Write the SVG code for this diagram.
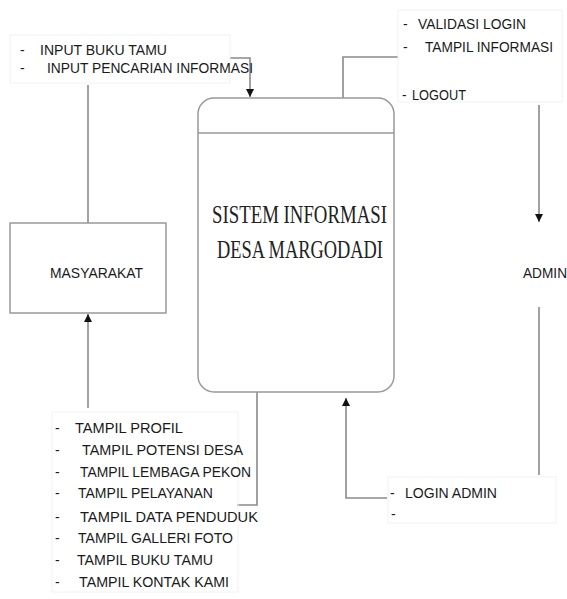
<svg xmlns="http://www.w3.org/2000/svg" width="567" height="599" viewBox="0 0 567 599">
<defs>
<marker id="ah" viewBox="0 0 10 10" refX="10" refY="5" markerWidth="8" markerHeight="12" markerUnits="userSpaceOnUse" orient="auto">
<path d="M0,0 L10,5 L0,10 Z" fill="#111"/>
</marker>
</defs>
<style>
.t{font-family:"Liberation Sans",Arial,sans-serif;font-size:14px;fill:#1a1a1a}
.s{font-family:"Liberation Serif","Times New Roman",serif;font-size:26px;fill:#222}
.c{fill:none;stroke:#8a8a8a;stroke-width:1.6}
.b{fill:#fff;stroke:#999;stroke-width:1.5}
.f{fill:none;stroke:#f2f2f2;stroke-width:1}
</style>
<rect width="567" height="599" fill="#fff"/>
<g id="connectors">
<polyline class="c" points="230,58 250,58 250,97" marker-end="url(#ah)"/>
<line class="c" x1="88" y1="85" x2="88" y2="223"/>
<line class="c" x1="88" y1="408" x2="88" y2="314" marker-end="url(#ah)"/>
<polyline class="c" points="343,98 343,57 398,57"/>
<line class="c" x1="539" y1="105" x2="539" y2="222" marker-end="url(#ah)"/>
<line class="c" x1="539" y1="307" x2="539" y2="475"/>
<polyline class="c" points="387,498 346,498 346,398" marker-end="url(#ah)"/>
<polyline class="c" points="257,392 257,505 237,505"/>
</g>
<g id="input-labels">
<rect class="f" x="10" y="35" width="220" height="48"/>
<text class="t" x="20" y="55">-</text>
<text class="t" x="40" y="55" textLength="127" lengthAdjust="spacingAndGlyphs">INPUT BUKU TAMU</text>
<text class="t" x="20" y="73">-</text>
<text class="t" x="47" y="73" textLength="206" lengthAdjust="spacingAndGlyphs">INPUT PENCARIAN INFORMASI</text>
</g>
<g id="masyarakat">
<rect class="b" x="10" y="223" width="156" height="90"/>
<text class="t" x="50" y="278" textLength="93" lengthAdjust="spacingAndGlyphs">MASYARAKAT</text>
</g>
<g id="sistem">
<rect class="b" x="198" y="98" width="196" height="294" rx="16" ry="16"/>
<line class="b" x1="198" y1="133" x2="394" y2="133"/>
<text class="s" x="212" y="223" textLength="175" lengthAdjust="spacingAndGlyphs">SISTEM INFORMASI</text>
<text class="s" x="217" y="258" textLength="166" lengthAdjust="spacingAndGlyphs">DESA MARGODADI</text>
</g>
<g id="admin-labels">
<rect class="f" x="398" y="10" width="164" height="92"/>
<text class="t" x="403" y="29">-</text>
<text class="t" x="418" y="29" textLength="108" lengthAdjust="spacingAndGlyphs">VALIDASI LOGIN</text>
<text class="t" x="403" y="52">-</text>
<text class="t" x="425" y="52" textLength="128" lengthAdjust="spacingAndGlyphs">TAMPIL INFORMASI</text>
<text class="t" x="402" y="100">-</text>
<text class="t" x="412" y="100" textLength="54" lengthAdjust="spacingAndGlyphs">LOGOUT</text>
</g>
<g id="admin">
<text class="t" x="523" y="278" textLength="44" lengthAdjust="spacingAndGlyphs">ADMIN</text>
</g>
<g id="login-labels">
<rect class="f" x="388" y="477" width="168" height="46"/>
<text class="t" x="390" y="498">-</text>
<text class="t" x="405" y="498" textLength="92" lengthAdjust="spacingAndGlyphs">LOGIN ADMIN</text>
<text class="t" x="391" y="519" font-size="9">-</text>
</g>
<g id="output-labels">
<rect class="f" x="52" y="412" width="186" height="180"/>
<text class="t" x="55" y="433">-</text>
<text class="t" x="75" y="433" textLength="108" lengthAdjust="spacingAndGlyphs">TAMPIL  PROFIL</text>
<text class="t" x="55" y="455">-</text>
<text class="t" x="82" y="455" textLength="161" lengthAdjust="spacingAndGlyphs">TAMPIL  POTENSI DESA</text>
<text class="t" x="55" y="477">-</text>
<text class="t" x="80" y="477" textLength="171" lengthAdjust="spacingAndGlyphs">TAMPIL LEMBAGA PEKON</text>
<text class="t" x="55" y="498">-</text>
<text class="t" x="78" y="498" textLength="135" lengthAdjust="spacingAndGlyphs">TAMPIL PELAYANAN</text>
<text class="t" x="55" y="522">-</text>
<text class="t" x="80" y="522" textLength="178" lengthAdjust="spacingAndGlyphs">TAMPIL  DATA PENDUDUK</text>
<text class="t" x="55" y="543">-</text>
<text class="t" x="78" y="543" textLength="155" lengthAdjust="spacingAndGlyphs">TAMPIL GALLERI FOTO</text>
<text class="t" x="55" y="565">-</text>
<text class="t" x="77" y="565" textLength="136" lengthAdjust="spacingAndGlyphs">TAMPIL BUKU TAMU</text>
<text class="t" x="55" y="587">-</text>
<text class="t" x="79" y="587" textLength="150" lengthAdjust="spacingAndGlyphs">TAMPIL KONTAK KAMI</text>
</g>
</svg>
